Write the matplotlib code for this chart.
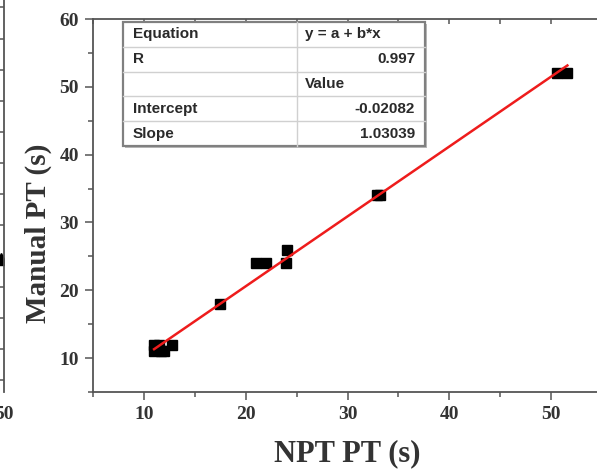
import matplotlib
matplotlib.use("Agg")
import matplotlib.pyplot as plt
from matplotlib.patches import Rectangle
from matplotlib.ticker import MultipleLocator

# data
npt_pt = [11.0, 11.0, 11.7, 12.0, 12.8, 11.5, 17.5, 21.0, 22.0, 24.0, 24.1, 32.9, 33.2, 50.6, 51.6]
manual_pt = [12.0, 11.0, 11.0, 11.0, 12.0, 12.0, 18.0, 24.0, 24.0, 24.0, 26.0, 34.0, 34.0, 52.0, 52.0]
intercept = -0.02082
slope = 1.03039
r_value = 0.997

table_rows = [("Equation", "y = a + b*x"), ("R", "0.997"), ("", "Value"),
              ("Intercept", "-0.02082"), ("Slope", "1.03039")]
right_align = [False, True, False, True, True]

# the edge of the neighbouring panel that shows on the far left
left_panel_x = [49.6]
left_panel_y = [3.9]

W, H = 597, 472
fig = plt.figure(figsize=(W / 100, H / 100), dpi=100)

serif = ["Liberation Serif", "DejaVu Serif"]
sans = ["Liberation Sans", "DejaVu Sans"]
spine_col = "#555555"
text_col = "#333333"

# ---- main axes
ax = fig.add_axes([93 / W, (H - 392) / H, (602 - 93) / W, (392 - 19) / H])
ax.set_xlim(5, 55)
ax.set_ylim(5, 60)
ax.xaxis.set_minor_locator(MultipleLocator(5))
ax.yaxis.set_minor_locator(MultipleLocator(5))
ax.set_xticks([10, 20, 30, 40, 50])
ax.set_yticks([10, 20, 30, 40, 50, 60])

for s in ax.spines.values():
    s.set_color(spine_col)
    s.set_linewidth(1.3)

ax.tick_params(which="both", direction="out", color=spine_col, width=1.1,
               top=False, right=False, labelsize=14)
ax.tick_params(which="major", length=6, pad=4)
ax.tick_params(which="minor", length=3.5)
for lab in ax.get_xticklabels() + ax.get_yticklabels():
    lab.set_family(serif)
    lab.set_fontweight("bold")
    lab.set_color(text_col)

# inward ticks on top and right
sec_x = ax.secondary_xaxis("top")
sec_x.set_xticks([10, 20, 30, 40, 50])
sec_x.xaxis.set_minor_locator(MultipleLocator(5))
sec_x.tick_params(which="both", direction="in", length=3.5, color=spine_col,
                  width=1.1, labeltop=False)
sec_x.spines["top"].set_visible(False)
sec_y = ax.secondary_yaxis("right")
sec_y.set_yticks([10, 20, 30, 40, 50, 60])
sec_y.yaxis.set_minor_locator(MultipleLocator(5))
sec_y.tick_params(which="both", direction="in", length=3.5, color=spine_col,
                  width=1.1, labelright=False)
sec_y.spines["right"].set_visible(False)

ax.set_xlabel("NPT PT (s)", fontsize=22, fontweight="bold", family=serif,
              color=text_col, labelpad=12)
ax.set_ylabel("Manual PT (s)", fontsize=21, fontweight="bold", family=serif,
              color=text_col)
ax.yaxis.set_label_coords((52 - 93) / 509, (392 - 233) / 373)

# points and fitted line
ax.plot(npt_pt, manual_pt, linestyle="none", marker="s", ms=6.5,
        color="black", zorder=3)
x_fit = [min(npt_pt), max(npt_pt)]
y_fit = [intercept + slope * v for v in x_fit]
ax.plot(x_fit, y_fit, color="#ee1c1c", lw=1.8, zorder=4)

# ---- results table, drawn in axes fraction
tx0, tx1 = (123 - 93) / 509, (425 - 93) / 509
ty1, ty0 = (392 - 22) / 373, (392 - 146) / 373
split = (297 - 93) / 509
row_h = (ty1 - ty0) / len(table_rows)
pad_l = 10 / 509
pad_r = 10 / 509

ax.add_patch(Rectangle((tx0 + 0.003, ty0 - 0.006), tx1 - tx0, ty1 - ty0,
                       transform=ax.transAxes, facecolor="#bbbbbb",
                       edgecolor="none", zorder=5))
ax.add_patch(Rectangle((tx0, ty0), tx1 - tx0, ty1 - ty0, transform=ax.transAxes,
                       facecolor="white", edgecolor="#808080", lw=1.6, zorder=6))
for i in range(1, len(table_rows)):
    yy = ty1 - i * row_h
    ax.plot([tx0, tx1], [yy, yy], transform=ax.transAxes, color="#d0d0d0",
            lw=1.0, zorder=7)
ax.plot([split, split], [ty0, ty1], transform=ax.transAxes, color="#d0d0d0",
        lw=1.0, zorder=7)

for i, (left_txt, right_txt) in enumerate(table_rows):
    yc = ty1 - (i + 0.5) * row_h
    kw = dict(transform=ax.transAxes, va="center", fontsize=11, family=sans,
              fontweight="bold", color="#2a2a2a", zorder=8)
    ax.text(tx0 + pad_l, yc, left_txt, ha="left", **kw)
    if right_align[i]:
        ax.text(tx1 - pad_r, yc, right_txt, ha="right", **kw)
    else:
        ax.text(split + 8 / 509, yc, right_txt, ha="left", **kw)

# ---- sliver of the neighbouring panel (32 px per tick step)
ax2_h = 392 / H + 0.05
ax2 = fig.add_axes([-0.5, (H - 392) / H, 0.5 + 3.5 / W, ax2_h])
y0 = -12 / 32
ax2.set_xlim(0, 50)
ax2.set_ylim(y0, y0 + ax2_h * H / 32)
ax2.set_xticks([50])
ax2.set_yticks(range(0, 14))
ax2.yaxis.tick_right()
ax2.tick_params(axis="y", direction="in", length=4, color=spine_col,
                width=1.1, labelright=False)
ax2.tick_params(axis="x", length=0, pad=10, labelsize=14)
for lab in ax2.get_xticklabels():
    lab.set_family(serif)
    lab.set_fontweight("bold")
    lab.set_color(text_col)
for side in ["left", "top", "bottom"]:
    ax2.spines[side].set_visible(False)
ax2.spines["right"].set_color(spine_col)
ax2.spines["right"].set_linewidth(1.3)
ax2.plot(left_panel_x, left_panel_y, linestyle="none", marker="^", ms=8,
         color="black", clip_on=True)

fig.savefig("out.png", dpi=100)
